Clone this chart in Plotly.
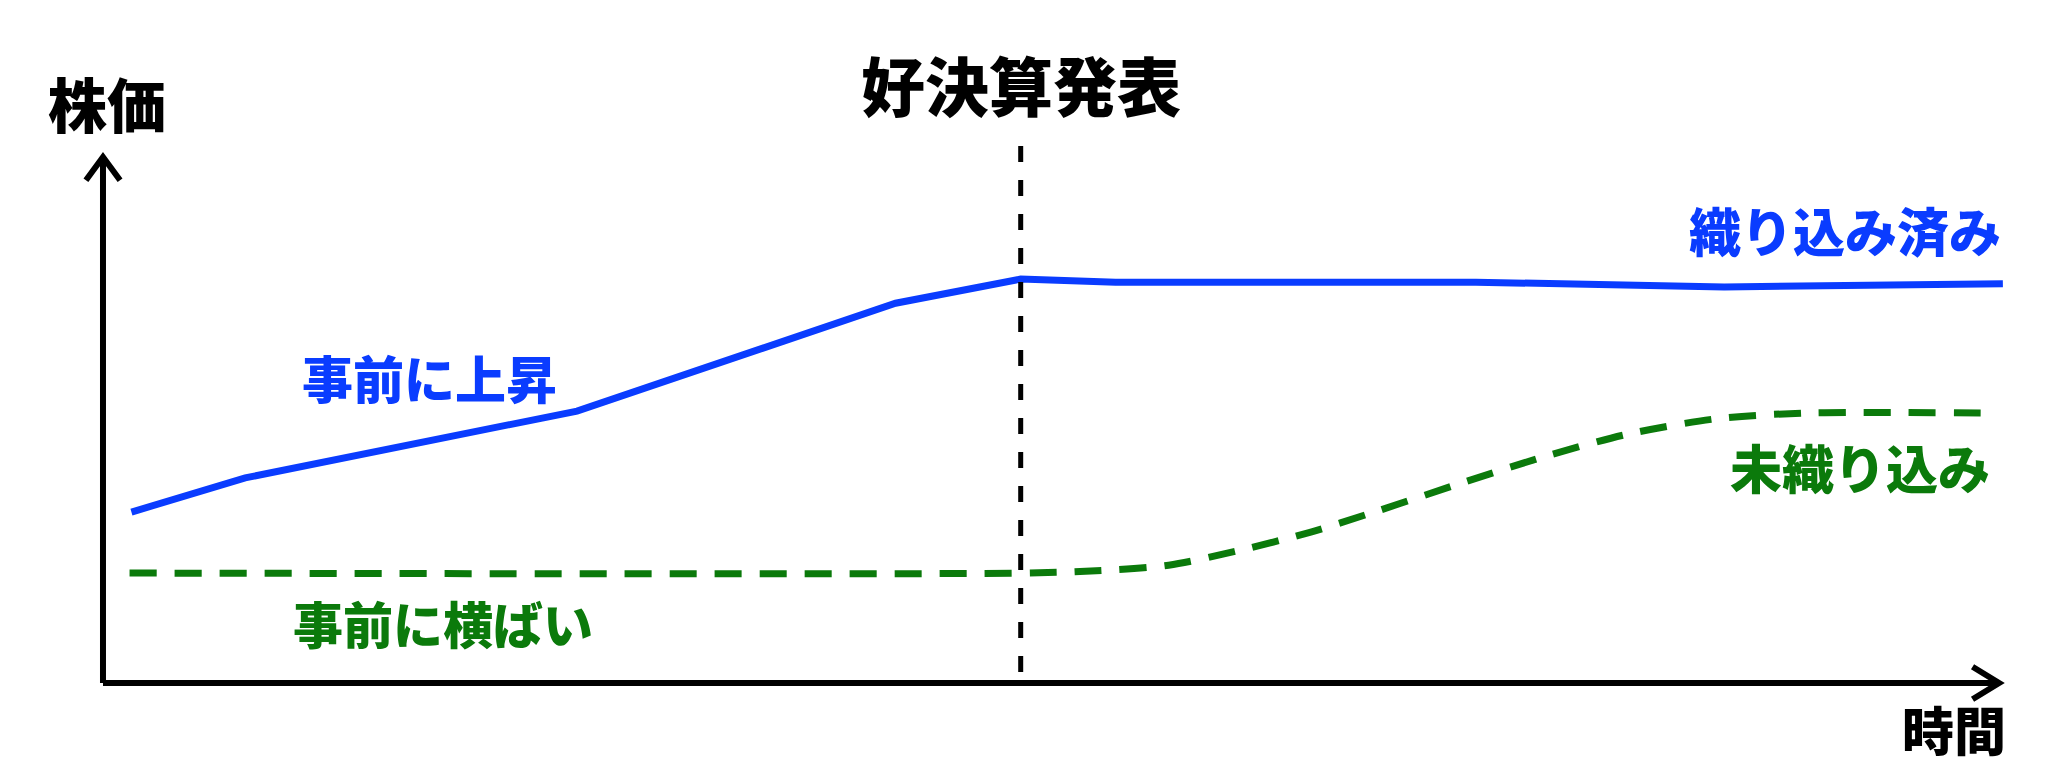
import plotly.graph_objects as go

# 時間軸 (0-100) と株価 (0-100) の相対値
time_priced_in = [1.5, 7.5, 25.0, 41.8, 48.4, 53.4, 72.4, 75.8, 85.5, 100.2]
price_priced_in = [32.5, 39.0, 51.7, 72.2, 76.8, 76.2, 76.2, 75.9, 75.3, 75.9]

time_not_priced = [1.4, 48.4, 52.1, 56.2, 59.8, 63.7, 66.7, 71.3, 75.8, 80.4, 85.0, 89.6, 99.5]
price_not_priced = [20.9, 20.9, 21.3, 22.4, 25.1, 28.7, 32.1, 37.6, 42.8, 47.3, 50.2, 51.3, 51.3]

event_time = 48.4
event_label = "好決算発表"

BLUE = "#0a3cff"
GREEN = "#0b7a0b"
FONT = "Noto Sans CJK JP"

fig = go.Figure()

fig.add_trace(go.Scatter(
    x=time_priced_in, y=price_priced_in, mode="lines",
    line=dict(color=BLUE, width=7), cliponaxis=False, hoverinfo="skip"))

fig.add_trace(go.Scatter(
    x=time_not_priced, y=price_not_priced, mode="lines",
    line=dict(color=GREEN, width=7, dash="27px,18px", shape="spline", smoothing=0.8),
    cliponaxis=False, hoverinfo="skip"))

# 縦の点線（決算発表）
fig.add_shape(type="line", x0=event_time, x1=event_time, y0=2.1, y1=102.9,
              line=dict(color="black", width=5, dash="16px,18px"))

# 軸と矢印
axis_line = dict(color="black", width=6)
fig.add_shape(type="line", x0=0, y0=0, x1=0, y1=100, line=axis_line)
fig.add_shape(type="line", x0=0, y0=0, x1=100, y1=0, line=axis_line)
fig.add_shape(type="path", path="M -0.9,95.6 L 0,100 L 0.9,95.6", line=axis_line)
fig.add_shape(type="path", path="M 98.6,3.1 L 100,0 L 98.6,-3.1", line=axis_line)


def label(text, x, y, color, size, anchor="center"):
    fig.add_annotation(x=x, y=y, text=text, showarrow=False, xanchor=anchor,
                       yanchor="middle",
                       font=dict(family=FONT, size=size, color=color, weight=900))


label(event_label, event_time, 114.1, "black", 64)
label("株価", 0.2, 110.3, "black", 59)
label("時間", 97.6, -8.6, "black", 52)
label("織り込み済み", 100.2, 86.3, BLUE, 52, "right")
label("事前に上昇", 10.4, 58.2, BLUE, 51, "left")
label("未織り込み", 99.6, 41.1, GREEN, 52, "right")
label("事前に横ばい", 9.9, 11.6, GREEN, 50, "left")

# ページの余白 (8px) を差し引いた表示範囲
fig.update_xaxes(range=[-5.01, 102.58], visible=False)
fig.update_yaxes(range=[-16.16, 128.33], visible=False)
fig.update_layout(
    width=2040, height=760,
    margin=dict(l=0, r=0, t=0, b=0),
    plot_bgcolor="white", paper_bgcolor="white",
    showlegend=False,
)

fig.write_html("out.html")
